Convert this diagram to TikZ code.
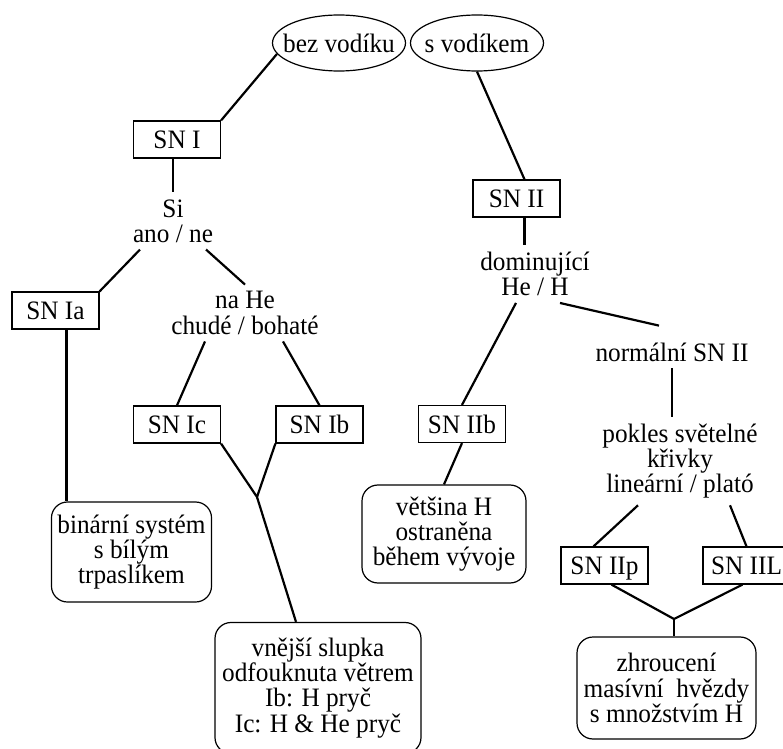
\documentclass[tikz,border=0pt]{standalone}
\usepackage{fontspec}
\setmainfont{Liberation Serif}[FakeStretch=0.95]
\usetikzlibrary{positioning, shapes.geometric}
\newcommand\diagfont{\fontsize{13.3}{12.6}\selectfont\lineskiplimit -20pt\relax}

\begin{document}
\begin{tikzpicture}[
  x=0.5pt, y=-0.5pt,
  font=\diagfont,
  start/.style={
    ellipse, draw, line width=0.6pt,
    minimum width=66.5pt, minimum height=28pt,
    inner xsep=-4.5pt, inner ysep=0pt
  },
  snbox/.style={
    rectangle, draw, line width=0.6pt,
    minimum width=43.5pt, minimum height=18pt, inner sep=2pt,
    text height=11.8pt, text depth=2.7pt
  },
  question/.style={
    align=center, inner sep=3.3pt
  },
  outcome/.style={
    rectangle, draw, rounded corners=8pt, line width=0.6pt,
    align=center, inner sep=3pt
  },
  link/.style={line width=1.1pt}
]

\clip (0,0) rectangle (783,749);

% Start: with or without hydrogen
\node[start] (bez) at (339,43) {bez vodíku};
\node[start] (sv) at (477,43) {s vodíkem};

% Type I branch
\node[snbox] (sn1) at (177,139.5) {SN I};
\node[question] (si) at (173,221) {Si\\ano / ne};
\node[snbox] (sn1a) at (55.5,310.5) {SN Ia};
\node[question] (nahe) at (245,313) {na He\\chudé / bohaté};
\node[snbox] (sn1c) at (177,424.5) {SN Ic};
\node[snbox] (sn1b) at (319.5,424.5) {SN Ib};
\node[outcome, minimum width=79.5pt, minimum height=50pt] (bin) at (131.5,552)
  {binární systém\\s bílým\\trpaslíkem};
\node[outcome, minimum width=103pt, minimum height=65.5pt] (vne) at (318,688)
  {vnější slupka\\odfouknuta větrem\\Ib: H pryč\\Ic: H \& He pryč};

% Type II branch
\node[snbox] (sn2) at (516.5,198.5) {SN II};
\node[question] (dom) at (535,274) {dominující\\He / H};
\node[snbox] (sn2b) at (462,424) {SN IIb};
\node[outcome, minimum width=82pt, minimum height=49pt] (vet) at (444,534)
  {většina H\\ostraněna\\během vývoje};
\node[question] (normal) at (672,352) {normální SN II};
\node[question] (pokles) at (680,461) {pokles světelné\\křivky\\lineární / plató};
\node[snbox] (sn2p) at (604.5,565.5) {SN IIp};
\node[snbox] (sn2l) at (746.5,565.5) {SN IIL};
\node[outcome, minimum width=89.5pt, minimum height=51pt] (zhr) at (666.5,688)
  {zhroucení\\masívní\ \ hvězdy\\s množstvím H};

% Junctions
\coordinate (j1) at (257,497);
\coordinate (j2) at (674,619);

% Links, type I
\draw[link] (bez.190) -- (sn1.north east);
\draw[link] (si.north |- sn1.south) -- (si.north);
\draw[link] ([xshift=7pt]si.south west) -- (sn1a.north east);
\draw[link] ([xshift=-7pt]si.south east) -- (nahe.north);
\draw[link] ([xshift=-20pt]nahe.south) -- (sn1c.north);
\draw[link] ([xshift=19pt]nahe.south) -- (sn1b.north);
\draw[link] ([xshift=5.5pt]sn1a.south) -- ([xshift=5.5pt]sn1a.south |- bin.north);
\draw[link] (sn1c.south east) -- (j1) -- (sn1b.south west);
\draw[link] (j1) -- ([xshift=-11pt]vne.north);

% Links, type II
\draw[link] (sv.south) -- ([xshift=4pt]sn2.north);
\draw[link] ([xshift=4pt]sn2.south) -- ([xshift=4pt]sn2.south |- dom.north);
\draw[link] ([xshift=-9.5pt]dom.south) -- (sn2b.north);
\draw[link] ([xshift=12.5pt]dom.south) -- ([xshift=-6.5pt,yshift=5pt]normal.north);
\draw[link] (sn2b.south) -- (vet.north);
\draw[link] (normal.south) -- (normal.south |- pokles.north);
\draw[link] ([xshift=-21pt]pokles.south) -- ([xshift=-5.5pt]sn2p.north);
\draw[link] ([xshift=25pt]pokles.south) -- (sn2l.north);
\draw[link] ([xshift=3.5pt]sn2p.south) -- (j2) -- ([xshift=-2pt]sn2l.south);
\draw[link] (j2) -- (j2 |- zhr.north);

\end{tikzpicture}
\end{document}
